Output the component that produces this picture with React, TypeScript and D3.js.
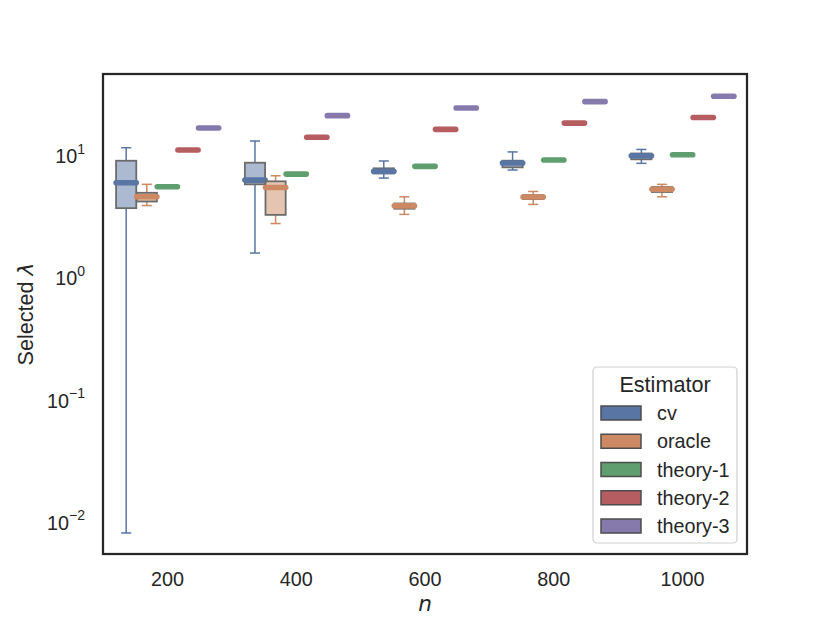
import React from 'react';
import * as d3 from 'd3';

// sample sizes on the x axis and the estimators (hue)
const nLabels = ['200', '400', '600', '800', '1000'];
const estimators = ['cv', 'oracle', 'theory-1', 'theory-2', 'theory-3'];

// seaborn "deep" desaturated to 0.75, as boxplot draws it
const colors = ['#5875a4', '#cc8963', '#5f9e6e', '#b55d60', '#857aab'];

// [lower whisker, q1, median, q3, upper whisker] per n
const cvStats = [
    [0.00798, 3.61, 5.82, 8.81, 11.26],
    [1.55, 5.65, 6.12, 8.49, 12.78],
    [6.36, 6.95, 7.21, 7.64, 8.77],
    [7.40, 7.78, 8.45, 8.82, 10.4],
    [8.39, 9.05, 9.68, 10.1, 10.9],
];
const oracleStats = [
    [3.79, 4.09, 4.47, 4.82, 5.65],
    [2.70, 3.18, 5.33, 5.98, 6.64],
    [3.21, 3.57, 3.77, 3.94, 4.47],
    [3.87, 4.28, 4.45, 4.61, 4.94],
    [4.47, 4.89, 5.14, 5.37, 5.65],
];
// the theory rules give one value per n
const theory1 = [5.40, 6.85, 7.93, 8.93, 9.87];
const theory2 = [10.78, 13.7, 15.9, 17.9, 19.9];
const theory3 = [16.3, 20.6, 23.8, 26.8, 29.7];

const yTickExps = [1, 0, -1, -2];

const W = 830;
const H = 623;
const left = 103, right = 747, top = 74, bottom = 554;
const font = '"Liberation Sans", Arial, sans-serif';
const mathFont = '"DejaVu Sans", sans-serif';

const flat = (v: number[]) => v.map((x) => [x, x, x, x, x]);
const allStats = [cvStats, oracleStats, flat(theory1), flat(theory2), flat(theory3)];

const App: React.FC = () => {
    const x = d3.scaleBand<string>().domain(nLabels).range([left, right]).padding(0);
    const bw = x.bandwidth();
    const hue = d3.scaleBand<string>().domain(estimators).range([-0.4 * bw, 0.4 * bw]);
    const boxW = hue.bandwidth() * 0.98;

    const y = d3.scaleLog().domain([0.00537, 45.1]).range([bottom, top]);

    const fmtMinus = (e: number) => (e < 0 ? '\u2212' + Math.abs(e) : String(e));

    return (
        <svg width={W} height={H} style={{ position: 'absolute', left: 0, top: 0, background: '#fff' }}>
            {/* boxes */}
            {estimators.map((est, ei) =>
                nLabels.map((n, ni) => {
                    const [lo, q1, med, q3, hi] = allStats[ei][ni];
                    const cx = (x(n) as number) + bw / 2 + (hue(est) as number) + hue.bandwidth() / 2;
                    const c = colors[ei];
                    const capW = boxW / 2;
                    return (
                        <g key={est + n}>
                            <line x1={cx} x2={cx} y1={y(q1)} y2={y(lo)} stroke={c} strokeWidth={1.5} />
                            <line x1={cx} x2={cx} y1={y(q3)} y2={y(hi)} stroke={c} strokeWidth={1.5} />
                            <line x1={cx - capW / 2} x2={cx + capW / 2} y1={y(lo)} y2={y(lo)} stroke={c} strokeWidth={1.5} />
                            <line x1={cx - capW / 2} x2={cx + capW / 2} y1={y(hi)} y2={y(hi)} stroke={c} strokeWidth={1.5} />
                            <rect
                                x={cx - boxW / 2}
                                y={y(q3)}
                                width={boxW}
                                height={Math.max(0, y(q1) - y(q3))}
                                fill={c}
                                fillOpacity={0.5}
                                stroke="#6b6b6b"
                                strokeWidth={1.8}
                            />
                            <line
                                x1={cx - boxW / 2}
                                x2={cx + boxW / 2}
                                y1={y(med)}
                                y2={y(med)}
                                stroke={c}
                                strokeWidth={5.6}
                                strokeLinecap="round"
                            />
                        </g>
                    );
                })
            )}

            {/* frame */}
            <rect x={left} y={top} width={right - left} height={bottom - top} fill="none" stroke="#262626" strokeWidth={2.25} />

            {/* x ticks */}
            {nLabels.map((n) => (
                <text key={n} x={(x(n) as number) + bw / 2} y={586} textAnchor="middle" fontFamily={font} fontSize={19.8} fill="#262626">
                    {n}
                </text>
            ))}
            <text x={(left + right) / 2} y={611} textAnchor="middle" fontFamily={mathFont} fontStyle="italic" fontSize={21.6} fill="#262626">
                n
            </text>

            {/* y ticks */}
            {yTickExps.map((e) => (
                <text key={e} x={85} y={y(Math.pow(10, e)) + 9} textAnchor="end" fontFamily={font} fontSize={19.8} fill="#262626">
                    10
                    <tspan dy={-9.5} fontSize={14}>{fmtMinus(e)}</tspan>
                </text>
            ))}
            <text
                transform={`translate(33,${(top + bottom) / 2}) rotate(-90)`}
                textAnchor="middle"
                fontFamily={font}
                fontSize={21.6}
                fill="#262626"
            >
                Selected <tspan fontFamily={mathFont} fontStyle="italic">λ</tspan>
            </text>

            {/* legend */}
            <g>
                <rect x={593} y={367} width={144} height={176} rx={4} fill="#fff" fillOpacity={0.8} stroke="#d0d0d0" strokeWidth={1.2} />
                <text x={665} y={391.5} textAnchor="middle" fontFamily={font} fontSize={21.6} fill="#262626">
                    Estimator
                </text>
                {estimators.map((est, i) => {
                    const cy = 413 + i * 28.25;
                    return (
                        <g key={est}>
                            <rect x={601} y={cy - 7} width={40} height={14} fill={colors[i]} stroke="#4d4d4d" strokeWidth={1.5} />
                            <text x={657} y={cy + 7} fontFamily={font} fontSize={19.8} fill="#262626">
                                {est}
                            </text>
                        </g>
                    );
                })}
            </g>
        </svg>
    );
};

export default App;
